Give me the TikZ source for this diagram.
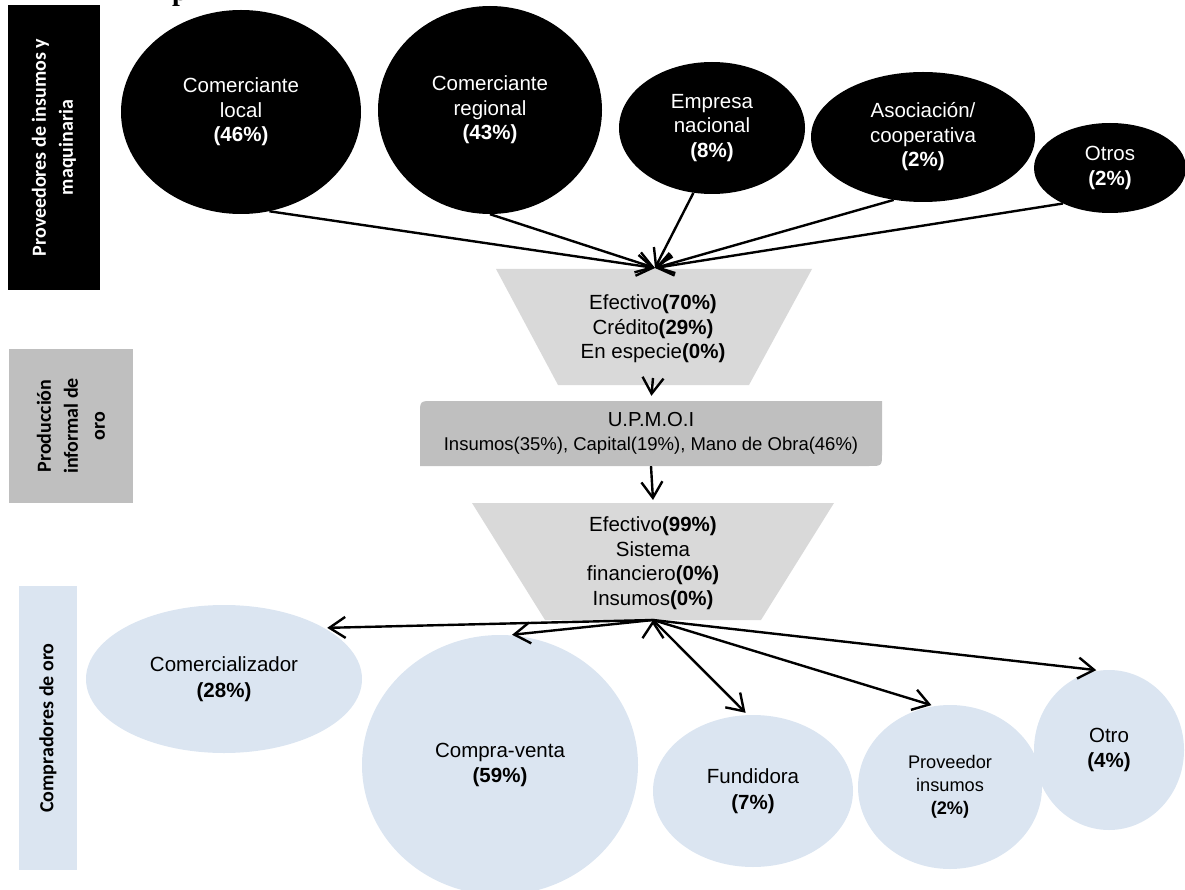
\documentclass[tikz,border=0pt]{standalone}
\usepackage{fontspec}
\setmainfont{Liberation Sans}
\newfontfamily\calibrifont{Carlito}
\newfontfamily\tituloserif{Liberation Serif}
\usetikzlibrary{shapes.geometric,arrows.meta}
\definecolor{azulclaro}{HTML}{DBE5F1}
\definecolor{grisclaro}{HTML}{D9D9D9}
\definecolor{grismedio}{HTML}{BFBFBF}

\begin{document}
\begin{tikzpicture}[x=1pt,y=-1pt,
        prov/.style={ellipse, fill=black, text=white, align=center, inner sep=0pt,
            font=\fontsize{20.5}{24.5}\selectfont},
        comp/.style={ellipse, fill=azulclaro, align=center, inner sep=0pt,
            font=\fontsize{20.5}{25.5}\selectfont},
        texto/.style={align=center, inner sep=0pt, font=\fontsize{20.5}{24.5}\selectfont},
        etiqueta/.style={rotate=90, align=center, inner sep=0pt,
            font=\calibrifont\bfseries\fontsize{20}{27}\selectfont},
        flecha/.style={line width=2.4pt, -{Straight Barb[length=16pt,width=21pt]},
            every edge/.append style={line width=2.4pt}}]
    \useasboundingbox (0,0) rectangle (1185,890);

    \node[font=\tituloserif\bfseries\fontsize{28}{28}\selectfont, anchor=base, inner sep=0pt]
        (titulo) at (180,1) {p};

    \node[etiqueta, fill=black, text=white, minimum width=285, minimum height=92]
        (L1) at (54,147.5) {Proveedores de insumos y\\maquinaria};
    \node[etiqueta, fill=grismedio, minimum width=154, minimum height=124]
        (L2) at (71,426) {Producción\\informal de\\oro};
    \node[etiqueta, fill=azulclaro, minimum width=284, minimum height=58]
        (L3) at (48,728) {Compradores de oro};

    \fill[grisclaro] (496,269) -- (812,269) -- (749,385) -- (558,385) -- cycle;
    \fill[grisclaro] (472,503) -- (834,503) -- (761,620) -- (545,620) -- cycle;
    \fill[grismedio] (420,466) -- (420,414) .. controls (420,401) .. (433,401) -- (882,401)
        -- (882,453) .. controls (882,466) .. (869,466) -- cycle;

    \path
        (241,112) node[prov, minimum width=240, minimum height=204] (CL)
            {Comerciante\\local\\\textbf{(46\%)}}
        (490,110) node[prov, minimum width=224, minimum height=208] (CR)
            {Comerciante\\regional\\\textbf{(43\%)}}
        (712,128) node[prov, minimum width=186, minimum height=132] (EN)
            {Empresa\\nacional\\\textbf{(8\%)}}
        (923,137) node[prov, minimum width=224, minimum height=130] (AC)
            {Asociación/\\cooperativa\\\textbf{(2\%)}}
        (1110,168) node[prov, minimum width=152, minimum height=90] (OS)
            {Otros\\\textbf{(2\%)}}

        (653,329) node[texto] (F1)
            {Efectivo\textbf{(70\%)}\\Crédito\textbf{(29\%)}\\En especie\textbf{(0\%)}}
        (651,433.5) node[texto, minimum width=462, minimum height=65,
            font=\fontsize{18.5}{24}\selectfont] (U)
            {{\fontsize{20.3}{24}\selectfont U.P.M.O.I}\\Insumos(35\%), Capital(19\%), Mano de Obra(46\%)}
        (653,563) node[texto] (F2)
            {Efectivo\textbf{(99\%)}\\Sistema\\financiero\textbf{(0\%)}\\Insumos\textbf{(0\%)}}

        (224,679) node[comp, minimum width=276, minimum height=148] (CO)
            {Comercializador\\\textbf{(28\%)}}
        (500,765) node[comp, minimum width=276, minimum height=260] (CV)
            {Compra-venta\\\textbf{(59\%)}}
        (753,791) node[comp, minimum width=200, minimum height=152] (FU)
            {Fundidora\\\textbf{(7\%)}}
        (950,787) node[comp, minimum width=184, minimum height=164,
            font=\fontsize{18.2}{23}\selectfont] (PI)
            {Proveedor\\insumos\\\textbf{(2\%)}}
        (1109,750) node[comp, minimum width=150, minimum height=160] (OR)
            {Otro\\\textbf{(4\%)}};

    \coordinate (F1top) at (655,268);
    \coordinate (F1bot) at (653,378);
    \coordinate (F2top) at (653,500);
    \coordinate (F2bot) at (653,620);

    \draw[flecha]
        (CL.-74) edge (F1top)
        (CR.-90) edge (F1top)
        (EN.-106) edge (F1top)
        (AC.-115) edge (F1top)
        (OS.-143) edge (F1top)

        (F1bot) edge[shorten >=5pt] (U.north)
        (U.south) edge (F2top)

        (F2bot) edge[shorten >=3pt] (CO.27)
        (F2bot) edge[shorten >=3pt] (CV.86)
        (F2bot) edge[shorten >=3pt] (FU.94)
        (F2bot) edge[shorten >=3pt] (PI.101)
        (F2bot) edge[shorten >=3pt] (OR.97)
        ;
\end{tikzpicture}
\end{document}
